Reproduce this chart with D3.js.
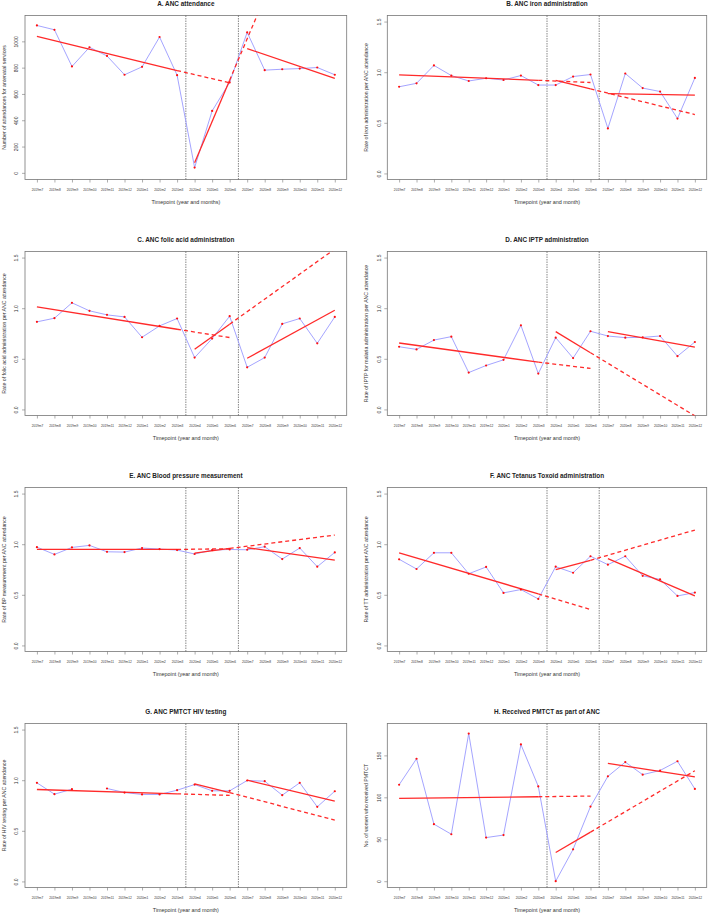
<!DOCTYPE html>
<html><head><meta charset="utf-8">
<script src="https://cdn.jsdelivr.net/npm/d3@7"></script>
<style>body{margin:0;background:#fff} svg{display:block;font-family:"Liberation Sans",Arial,sans-serif}</style>
</head><body><svg id="c" width="709" height="913"></svg>
<script>
const months = ["2019m7","2019m8","2019m9","2019m10","2019m11","2019m12","2020m1","2020m2","2020m3","2020m4","2020m5","2020m6","2020m7","2020m8","2020m9","2020m10","2020m11","2020m12"];

// observed monthly values
const attendance = [1121,1088,809,955,889,746,806,1033,743,40,471,688,1068,781,788,793,801,746];
const iron       = [0.856,0.890,1.067,0.967,0.913,0.940,0.923,0.967,0.873,0.873,0.957,0.977,0.445,0.987,0.843,0.809,0.542,0.943];
const folic      = [0.865,0.901,1.053,0.974,0.934,0.914,0.713,0.825,0.898,0.512,0.700,0.921,0.416,0.512,0.845,0.898,0.653,0.914];
const iptp       = [0.619,0.593,0.685,0.719,0.364,0.434,0.490,0.831,0.354,0.709,0.507,0.772,0.725,0.709,0.712,0.725,0.526,0.666];
const bp         = [0.971,0.899,0.968,0.988,0.925,0.922,0.962,0.952,0.942,0.903,0.942,0.948,0.945,0.975,0.853,0.962,0.778,0.919];
const tt         = [0.851,0.755,0.915,0.915,0.708,0.775,0.519,0.552,0.459,0.778,0.718,0.881,0.798,0.881,0.688,0.652,0.489,0.522];
const hiv        = [0.974,0.862,0.911,null,0.918,0.878,0.859,0.859,0.901,0.957,0.895,0.895,0.997,0.990,0.852,0.974,0.737,0.891];
const pmtct      = [115,146,68,56,176,52,55,163,113,0,38,89,125,142,127,132,143,110];

// fitted segment end values: [preStart, preEnd, preCounterfactualEnd, duringStart, duringEnd, duringCounterfactualEnd, postStart, postEnd]
const attendanceTrend = [1038,778,685,76,705,2592,945,718];
const ironTrend       = [0.973,0.920,0.898,0.920,0.835,0.582,0.789,0.773];
const folicTrend      = [1.013,0.792,0.710,0.594,0.842,1.584,0.505,0.980];
const iptpTrend       = [0.656,0.467,0.405,0.768,0.560,-0.064,0.768,0.616];
const bpTrend         = [0.948,0.948,0.955,0.912,0.958,1.090,0.965,0.843];
const ttTrend         = [0.915,0.509,0.355,0.748,0.841,1.140,0.858,0.489];
const hivTrend        = [0.908,0.865,0.850,0.964,0.878,0.605,1.000,0.793];
const pmtctTrend      = [98.7,100.7,101.5,34.2,58.5,131.7,140.5,124.5];

const rateTicks = [0,0.5,1.0,1.5];
const attendanceTicks = [0,200,400,600,800,1000];
const pmtctTicks = [0,50,100,150];
const breaks = [9.5,12.5];

const panels = [
 {title:"A. ANC attendance", ylab:"Number of attendances for antenatal services", xlab:"Timepoint (year and months)", v:attendance, t:attendanceTrend, dom:[-50.6,1196.6], ticks:attendanceTicks, fmt:d3.format("d"), col:0, row:0},
 {title:"B. ANC iron administration", ylab:"Rate of iron administration per ANC attendance", xlab:"Timepoint (year and month)", v:iron, t:ironTrend, dom:[-0.06,1.56], ticks:rateTicks, fmt:d3.format(".1f"), col:1, row:0},
 {title:"C. ANC folic acid administration", ylab:"Rate of folic acid administration per ANC attendance", xlab:"Timepoint (year and month)", v:folic, t:folicTrend, dom:[-0.06,1.56], ticks:rateTicks, fmt:d3.format(".1f"), col:0, row:1},
 {title:"D. ANC IPTP administration", ylab:"Rate of IPTP for malaria administration per ANC attendance", xlab:"Timepoint (year and month)", v:iptp, t:iptpTrend, dom:[-0.06,1.56], ticks:rateTicks, fmt:d3.format(".1f"), col:1, row:1},
 {title:"E. ANC Blood pressure measurement", ylab:"Rate of BP measurement per ANC attendance", xlab:"Timepoint (year and month)", v:bp, t:bpTrend, dom:[-0.06,1.56], ticks:rateTicks, fmt:d3.format(".1f"), col:0, row:2},
 {title:"F. ANC Tetanus Toxoid administration", ylab:"Rate of TT administration per ANC attendance", xlab:"Timepoint (year and month)", v:tt, t:ttTrend, dom:[-0.06,1.56], ticks:rateTicks, fmt:d3.format(".1f"), col:1, row:2},
 {title:"G. ANC PMTCT HIV testing", ylab:"Rate of HIV testing per ANC attendance", xlab:"Timepoint (year and month)", v:hiv, t:hivTrend, dom:[-0.06,1.56], ticks:rateTicks, fmt:d3.format(".1f"), col:0, row:3},
 {title:"H. Received PMTCT as part of ANC", ylab:"No. of women who received PMTCT", xlab:"Timepoint (year and month)", v:pmtct, t:pmtctTrend, dom:[-7.5,188], ticks:pmtctTicks, fmt:d3.format("d"), col:1, row:3}
];

const cols = [{left:25, right:346.7, ytick:16, ytitle:4}, {left:387.3, right:706.7, ytick:379, ytitle:366}];
const rows = [0,236,472,708];
const svg = d3.select("#c");
const txt = "#333", boxCol = "#777";

panels.forEach((p,i) => {
  const c = cols[p.col], r0 = rows[p.row];
  const top = r0 + 15.5, bottom = r0 + 179.5;
  const x = d3.scaleLinear().domain([0.32,18.68]).range([c.left, c.right]);
  const y = d3.scaleLinear().domain(p.dom).range([bottom, top]);
  const g = svg.append("g");
  const cid = "clip"+i;
  svg.append("clipPath").attr("id",cid).append("rect")
    .attr("x",c.left).attr("y",top).attr("width",c.right-c.left).attr("height",bottom-top);

  // title
  g.append("text").attr("x",(c.left+c.right)/2).attr("y",r0+6)
    .attr("text-anchor","middle").attr("font-size",6.4).attr("font-weight","bold").attr("fill","#222").text(p.title);

  // box
  g.append("rect").attr("x",c.left).attr("y",top).attr("width",c.right-c.left).attr("height",bottom-top)
    .attr("fill","none").attr("stroke",boxCol).attr("stroke-width",0.8);

  // x axis
  const xa = g.append("g").attr("transform",`translate(0,${bottom})`)
    .call(d3.axisBottom(x).tickValues(d3.range(1,19)).tickSize(3).tickFormat(d=>months[d-1]));
  xa.select(".domain").remove();
  xa.selectAll("line").attr("stroke",boxCol).attr("stroke-width",0.6);
  xa.selectAll("text").attr("font-size",3.2).attr("fill",txt).attr("y",9).attr("font-family","Liberation Sans, Arial, sans-serif");

  // y axis
  const ya = g.append("g").attr("transform",`translate(${c.left},0)`)
    .call(d3.axisLeft(y).tickValues(p.ticks).tickSize(3).tickFormat(p.fmt));
  ya.select(".domain").remove();
  ya.selectAll("line").attr("stroke",boxCol).attr("stroke-width",0.6);
  ya.selectAll("text").attr("font-size",5).attr("fill",txt).attr("font-family","Liberation Sans, Arial, sans-serif")
    .attr("x",0).attr("dy",0).attr("text-anchor","middle")
    .attr("transform",d=>`translate(${c.ytick - c.left + 1.8},0) rotate(-90)`);

  // axis titles
  g.append("text").attr("x",(c.left+c.right)/2).attr("y",r0+204)
    .attr("text-anchor","middle").attr("font-size",5.4).attr("fill",txt).text(p.xlab);
  g.append("text").attr("transform",`translate(${c.ytitle+1.8},${(top+bottom)/2}) rotate(-90)`)
    .attr("text-anchor","middle").attr("font-size",5.2).attr("fill",txt).text(p.ylab);

  // interruption lines
  breaks.forEach(b => {
    g.append("line").attr("x1",x(b)).attr("x2",x(b)).attr("y1",top).attr("y2",bottom)
      .attr("stroke","#555").attr("stroke-width",0.7).attr("stroke-dasharray","1.5,1");
  });

  const pg = g.append("g").attr("clip-path",`url(#${cid})`);
  // observed
  const line = d3.line().defined(d=>d[1]!==null).x(d=>x(d[0])).y(d=>y(d[1]));
  const pts = p.v.map((v,k)=>[k+1,v]);
  pg.append("path").attr("d",line(pts)).attr("fill","none").attr("stroke","#9a9aff").attr("stroke-width",0.9);

  // trends
  const t = p.t;
  const segs = [
    [[1,t[0]],[9,t[1]],false],
    [[9,t[1]],[12,t[2]],true],
    [[10,t[3]],[12,t[4]],false],
    [[12,t[4]],[18,t[5]],true],
    [[13,t[6]],[18,t[7]],false]
  ];
  segs.forEach(s => {
    pg.append("path").attr("d",d3.line().x(d=>x(d[0])).y(d=>y(d[1]))([s[0],s[1]]))
      .attr("fill","none").attr("stroke","#ff2a2a").attr("stroke-width",1.3)
      .attr("stroke-dasharray",s[2]?"4,3":null);
  });

  pg.selectAll("circle").data(pts.filter(d=>d[1]!==null)).join("circle")
    .attr("cx",d=>x(d[0])).attr("cy",d=>y(d[1])).attr("r",1.1).attr("fill","#ff1010");
});
</script></body></html>
